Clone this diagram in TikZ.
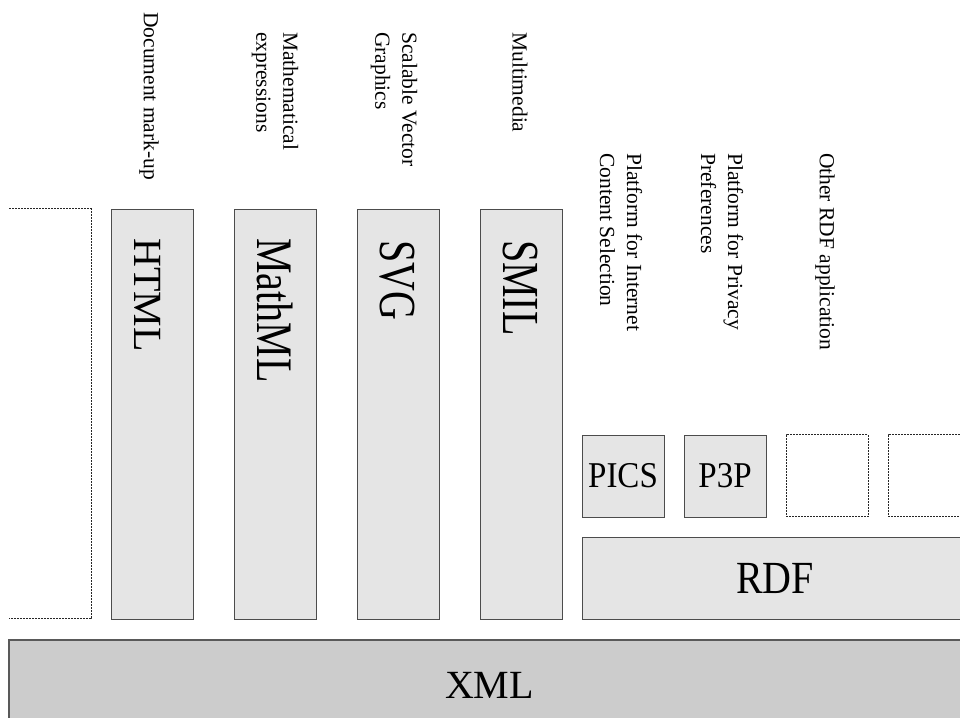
\documentclass[tikz,border=0pt]{standalone}
\usepackage{graphicx}
\usepackage{fontspec}
\setmainfont{Liberation Serif}
\usetikzlibrary{calc,positioning}

\newcommand{\tall}[2]{\scalebox{1}[#1]{#2}}

\begin{document}
\begin{tikzpicture}[x=1pt,y=1pt]

    \tikzstyle{layer}=[draw=black!70,fill=black!10,line width=0.9pt,inner sep=0pt,outer sep=0pt]
    \tikzstyle{column}=[layer,minimum width=82pt,minimum height=410pt]
    \tikzstyle{app}=[layer,minimum width=82pt,minimum height=82pt,font=\fontsize{33}{40}\selectfont]
    \tikzstyle{slot}=[draw=black!85,dash pattern=on 2pt off 1pt,line width=1pt,minimum width=82pt,minimum height=82pt,inner sep=0pt,outer sep=0pt]
    \tikzstyle{dashes}=[draw=black!85,dash pattern=on 2pt off 1pt,line width=1pt]
    \tikzstyle{caption}=[rotate=-90,anchor=west,align=left,inner sep=0pt,font=\fontsize{21.5}{27}\selectfont]
    \tikzstyle{tag}=[rotate=-90,anchor=west,inner sep=0pt,font=\fontsize{40}{48}\selectfont]

    \useasboundingbox (0,0) rectangle (960,717);
    \clip (0,0) rectangle (960,717);

    % columns on top of XML
    \node (spare) [minimum width=82pt,minimum height=410pt,inner sep=0pt,outer sep=0pt] at (50,303) {};
    \draw [dashes] (spare.north west) -- (spare.north east) -- (spare.south east) -- (spare.south west);

    \node (html) [column] at (152,303) {};
    \node (mathml) [column,right=41pt of html] {};
    \node (svg) [column,right=41pt of mathml] {};
    \node (smil) [column,right=41pt of svg] {};

    \node (html_tag) [tag] at ($(html.north)+(-4,-29)$) {HTML};
    \node (mathml_tag) [tag] at ($(mathml.north)+(0,-29)$) {\tall{1.28}{MathML}};
    \node (svg_tag) [tag] at ($(svg.north)+(-1,-31)$) {\tall{1.3}{SVG}};
    \node (smil_tag) [tag] at ($(smil.north)+(-1,-31)$) {\tall{1.3}{SMIL}};

    % RDF applications
    \node (pics) [app] at (623,241) {\tall{1.1}{PICS}};
    \node (p3p) [app,right=20pt of pics] {\tall{1.1}{P3P}};
    \node (other_a) [slot,right=20pt of p3p] {};
    \node (other_b) [slot,right=20pt of other_a] {};

    \node (rdf) [layer,minimum width=386pt,minimum height=82pt,font=\fontsize{40}{48}\selectfont,below=20pt of pics.south west,anchor=north west] {\tall{1.15}{RDF}};

    \node (xml) [layer,fill=black!20,draw=black!65,line width=1.5pt,minimum width=961pt,minimum height=90pt,font=\fontsize{40}{48}\selectfont,below=21pt of spare.south west,anchor=north west] {XML};

    % captions
    \node (html_cap) [caption] at ($(html.north)+(-3,197)$) {Document mark-up};
    \node (mathml_cap) [caption] at ($(mathml.north)+(0,177)$) {Mathematical\\expressions};
    \node (svg_cap) [caption] at ($(svg.north)+(-4,177)$) {Scalable Vector\\Graphics};
    \node (smil_cap) [caption] at ($(smil.north)+(-1,177)$) {Multimedia};
    \node (pics_cap) [caption] at ($(pics.north)+(-2,282)$) {Platform for Internet\\Content Selection};
    \node (p3p_cap) [caption] at ($(p3p.north)+(-3,282)$) {Platform for Privacy\\Preferences};
    \node (other_cap) [caption] at ($(other_a.north)+(-2,282)$) {Other RDF application};

\end{tikzpicture}
\end{document}
